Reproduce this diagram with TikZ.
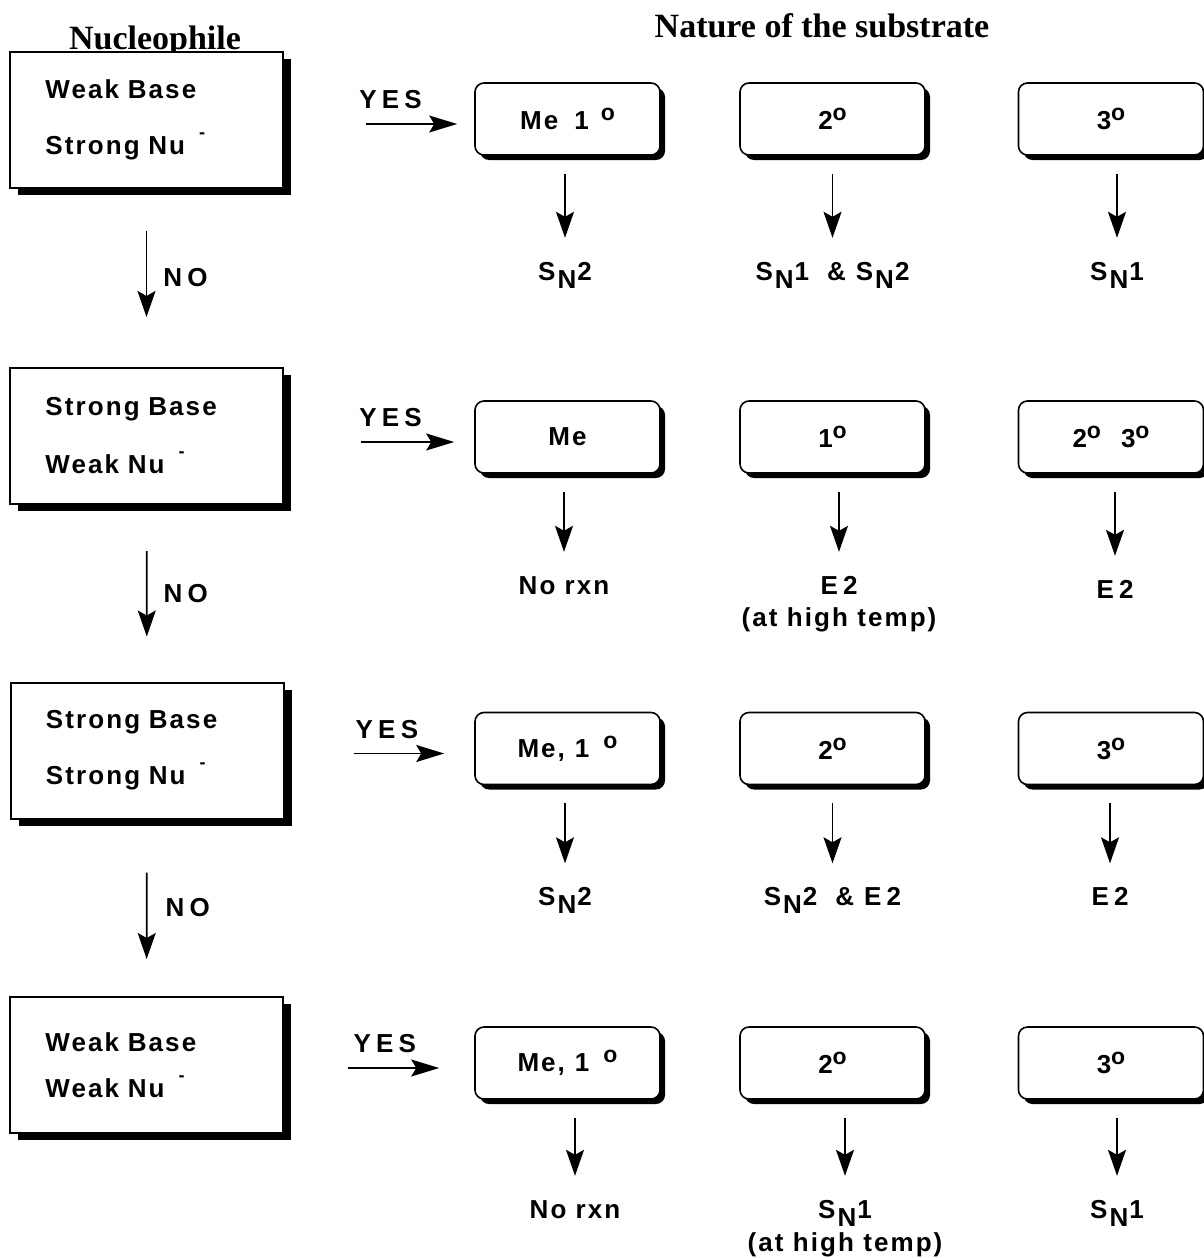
\documentclass[tikz,border=0pt]{standalone}
\usepackage{fontspec}
\setmainfont{Liberation Sans Bold}[LetterSpace=8]
\newfontfamily\titlefont{Liberation Serif Bold}
\usetikzlibrary{positioning,arrows.meta,shadows}

\newcommand{\SN}[1]{S\hspace{1pt}\raisebox{-4pt}{N}\hspace{0.5pt}#1}
\newcommand{\dg}{\raisebox{4.5pt}{\fontsize{11.5}{12}\selectfont o}}
\newcommand{\minus}{\smash{\raisebox{8pt}{\small -}}}
\newcommand{\wide}{\addfontfeature{LetterSpace=20}}

\begin{document}
\begin{tikzpicture}[x=0.5pt,y=-0.5pt,
  font=\fontsize{13}{15.6}\selectfont,
  lbox/.style={rectangle,draw,line width=1pt,fill=white,
    minimum width=136.5pt,minimum height=68pt,text width=101pt,
    inner xsep=17.75pt,align=left,
    drop shadow={fill=black,opacity=1,shadow xshift=4pt,shadow yshift=-3.5pt}},
  sbox/.style={rectangle,rounded corners=4.5pt,draw,line width=0.8pt,fill=white,
    minimum width=92.5pt,minimum height=36pt,
    drop shadow={fill=black,opacity=1,shadow xshift=2.5pt,shadow yshift=-2.5pt}},
  res/.style={inner sep=0pt,align=center},
  down/.style={-{Stealth[length=13pt,width=9pt,inset=2.5pt]},line width=0.85pt,
    shorten <=9pt,shorten >=12pt},
  yes/.style={-{Stealth[length=14pt,width=8.5pt,inset=2.5pt]},line width=0.85pt},
  no/.style={-{Stealth[length=13pt,width=9pt,inset=2.5pt]},line width=0.85pt},
  lab/.style={inner sep=0pt}]
\useasboundingbox (0,0) rectangle (1204,1258);

% headings
\node[anchor=base] (nuc) at (155,49) {\titlefont\fontsize{17}{20}\selectfont\underline{Nucleophile}};
\node[anchor=base] (sub) at (822,37) {\titlefont\fontsize{17}{20}\selectfont Nature of the substrate};

% nucleophile boxes
\node[lbox] (lb1) at (146.5,120) {Weak Base\\[12.4pt]Strong Nu\hspace{7pt}\minus};
\node[lbox] (lb2) at (146.5,436) {Strong Base\\[13.4pt]Weak Nu\hspace{7pt}\minus};
\node[lbox] (lb3) at (147,750.5) {Strong Base\\[12.4pt]Strong Nu\hspace{7pt}\minus};
\node[lbox] (lb4) at (146.5,1065) {Weak Base\\[7.4pt]Weak Nu\hspace{7pt}\minus};

% substrate boxes
\node[sbox] (m11) at (567.5,119) {Me\hspace{8pt}1\hspace{6pt}\dg};
\node[sbox] (m12) at (832.5,119) {2\dg};
\node[sbox] (m13) at (1111,119) {3\dg};
\node[sbox] (m21) at (567.5,437) {Me};
\node[sbox] (m22) at (832.5,437) {1\dg};
\node[sbox] (m23) at (1111,437) {2\dg\hspace{10pt}3\dg};
\node[sbox] (m31) at (567.5,748.5) {Me,\hspace{5pt}1\hspace{7pt}\dg};
\node[sbox] (m32) at (832.5,748.5) {2\dg};
\node[sbox] (m33) at (1111,748.5) {3\dg};
\node[sbox] (m41) at (567.5,1063) {Me,\hspace{5pt}1\hspace{7pt}\dg};
\node[sbox] (m42) at (832.5,1063) {2\dg};
\node[sbox] (m43) at (1111,1063) {3\dg};

% results
\node[res] (r11) [below=53pt of m11,xshift=-1.25pt] {\SN{2}};
\node[res] (r12) [below=53pt of m12] {\SN{1}\hspace{9pt}\&\hspace{5pt}\SN{2}};
\node[res] (r13) [below=53pt of m13,xshift=3pt] {\SN{1}};
\node[res] (r21) [below=51pt of m21,xshift=-1.75pt] {No rxn};
\node[res] (r22) [below=51pt of m22,xshift=3.25pt] {{\wide E2}\\[0.5pt](at high temp)};
\node[res] (r23) [below=53pt of m23,xshift=2pt] {\wide E2};
\node[res] (r31) [below=51pt of m31,xshift=-1.25pt] {\SN{2}};
\node[res] (r32) [below=51pt of m32] {\SN{2}\hspace{9pt}\&\hspace{5pt}{\wide E2}};
\node[res] (r33) [below=51pt of m33,xshift=-0.5pt] {\wide E2};
\node[res] (r41) [below=50pt of m41,xshift=3.75pt] {No rxn};
\node[res] (r42) [below=50pt of m42,xshift=6.25pt] {\SN{1}\\[1pt](at high temp)};
\node[res] (r43) [below=50pt of m43,xshift=3pt] {\SN{1}};

\path[down]
  (m11.south -| r11) edge (r11)
  (m12.south -| r12) edge (r12)
  (m13.south -| r13) edge (r13)
  (m21.south -| r21) edge (r21)
  (m22.south -| r22) edge (r22)
  (m23.south -| r23) edge (r23)
  (m31.south -| r31) edge (r31)
  (m32.south -| r32) edge (r32)
  (m33.south -| r33) edge (r33)
  (m41.south -| r41) edge (r41)
  (m42.south -| r42) edge (r42)
  (m43.south -| r43) edge (r43);

\path[yes]
  ([yshift=-2.5pt]m11.west -| lb1.east) edge[shorten <=41pt,shorten >=8.5pt]
    node[lab,pos=0.56,above=7pt] {\wide YES} ([yshift=-2.5pt]m11.west)
  ([yshift=-2.5pt]m21.west -| lb2.east) edge[shorten <=38.5pt,shorten >=10pt]
    node[lab,pos=0.56,above=7pt] {\wide YES} ([yshift=-2.5pt]m21.west)
  ([yshift=-2.5pt]m31.west -| lb3.east) edge[shorten <=34.5pt,shorten >=15pt]
    node[lab,pos=0.54,above=7pt] {\wide YES} ([yshift=-2.5pt]m31.west)
  ([yshift=-2.5pt]m41.west -| lb4.east) edge[shorten <=32pt,shorten >=17.5pt]
    node[lab,pos=0.53,above=7pt] {\wide YES} ([yshift=-2.5pt]m41.west);

\path[no]
  (lb1) edge[shorten <=21pt,shorten >=25pt] node[lab,midway,right=8pt] {\wide NO} (lb2)
  (lb2) edge[shorten <=23pt,shorten >=22.5pt] node[lab,midway,right=8pt] {\wide NO} (lb3)
  (lb3) edge[shorten <=26.5pt,shorten >=18.5pt] node[lab,midway,right=9pt] {\wide NO} (lb4);
\end{tikzpicture}
\end{document}
